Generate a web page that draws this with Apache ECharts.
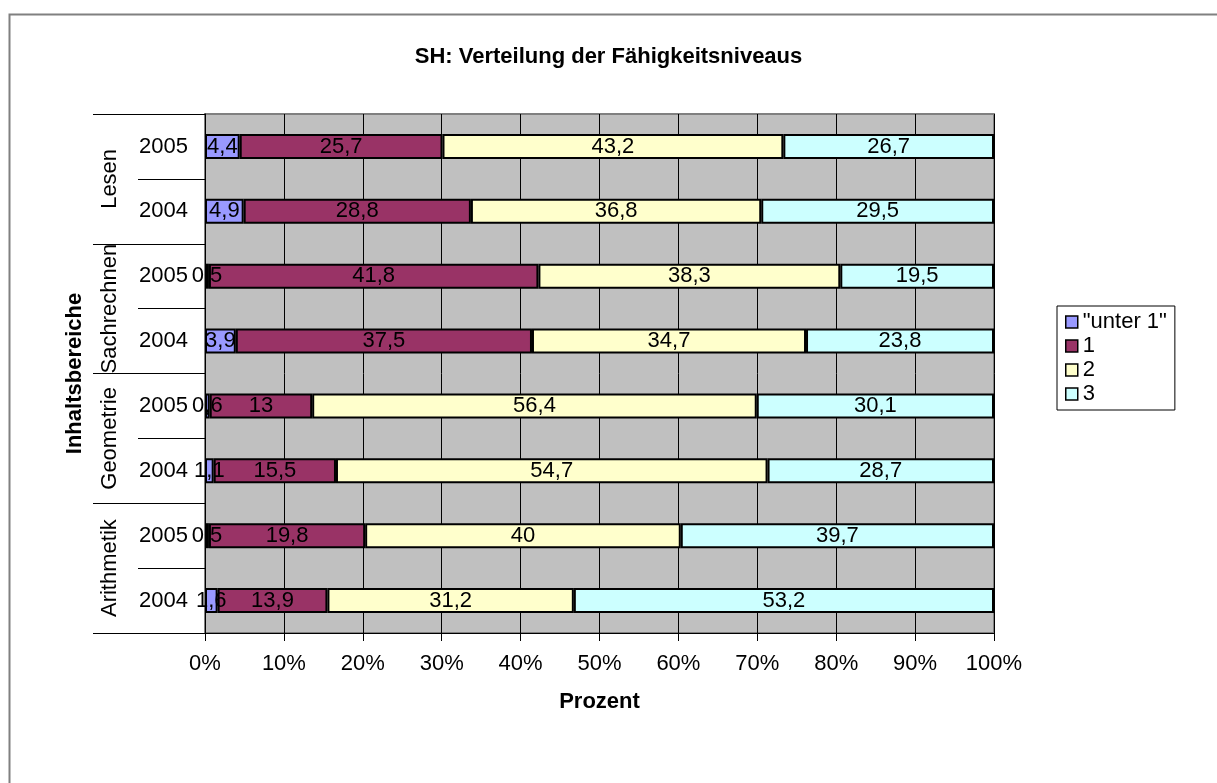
<!DOCTYPE html>
<html>
<head>
<meta charset="utf-8">
<title>SH: Verteilung der Fähigkeitsniveaus</title>
<script src="https://cdn.jsdelivr.net/npm/echarts@6/dist/echarts.min.js"></script>
<style>
    html, body { margin: 0; padding: 0; background: #fff; }
    #main { width: 1217px; height: 783px; }
</style>
</head>
<body>
<div id="main"></div>
<script>
// categories, bottom to top (echarts category axis starts at the bottom)
const years = ['2004', '2005', '2004', '2005', '2004', '2005', '2004', '2005'];
const groups = ['Arithmetik', 'Geometrie', 'Sachrechnen', 'Lesen'];
const seriesNames = ['"unter 1"', '1', '2', '3'];

const unter1 = [1.6, 0.5, 1.1, 0.6, 3.9, 0.5, 4.9, 4.4];
const level1 = [13.9, 19.8, 15.5, 13, 37.5, 41.8, 28.8, 25.7];
const level2 = [31.2, 40, 54.7, 56.4, 34.7, 38.3, 36.8, 43.2];
const level3 = [53.2, 39.7, 28.7, 30.1, 23.8, 19.5, 29.5, 26.7];

const tickLabels = ['0%', '10%', '20%', '30%', '40%', '50%', '60%', '70%', '80%', '90%', '100%'];

const colors = ['#9999FF', '#993366', '#FFFFCC', '#CCFFFF'];
const FONT = "'Liberation Sans', Arial, sans-serif";
const FS = 22;

function draw_chart() {
    let chartDom = document.getElementById('main');
    let myChart = echarts.init(chartDom);
    const raw = [unter1, level1, level2, level3];
    // 100% stacked: scale each row to its sum, like Excel does
    const sums = years.map((y, i) => raw.reduce((s, arr) => s + arr[i], 0));

    let series = raw.map((arr, k) => ({
        name: seriesNames[k],
        type: 'bar',
        stack: 'total',
        barWidth: 25,
        data: arr.map((v, i) => v / sums[i] * 100),
        itemStyle: {
            color: colors[k],
            borderColor: '#000',
            borderWidth: 2
        },
        label: {
            show: true,
            position: 'inside',
            color: '#000',
            fontFamily: FONT,
            fontSize: FS,
            formatter: p => String(raw[k][p.dataIndex]).replace('.', ',')
        },
        emphasis: { disabled: true }
    }));

    let option = {
        animation: false,
        textStyle: { fontFamily: FONT },
        title: {
            text: 'SH: Verteilung der Fähigkeitsniveaus',
            left: 'center',
            top: 41,
            textStyle: { fontSize: FS, fontWeight: 'bold', color: '#000', fontFamily: FONT }
        },
        legend: {
            orient: 'vertical',
            left: 1057,
            top: 306,
            padding: [5, 8, 5, 8],
            borderColor: '#000',
            borderWidth: 1,
            itemWidth: 12,
            itemHeight: 12,
            itemGap: 2,
            icon: 'rect',
            itemStyle: { borderWidth: 1.5 },
            textStyle: { fontSize: FS, color: '#000', fontFamily: FONT },
            data: seriesNames
        },
        grid: {
            left: 205,
            right: 223,
            top: 114,
            bottom: 150,
            show: true,
            backgroundColor: '#C0C0C0',
            borderColor: '#808080',
            borderWidth: 2
        },
        xAxis: {
            type: 'value',
            min: 0,
            max: 100,
            interval: 10,
            name: 'Prozent',
            nameLocation: 'middle',
            nameGap: 58,
            nameTextStyle: { fontSize: FS, fontWeight: 'bold', color: '#000', fontFamily: FONT },
            axisLine: { show: true, lineStyle: { color: '#000', width: 1 } },
            axisTick: { show: true, length: 8, lineStyle: { color: '#000' } },
            axisLabel: {
                margin: 20,
                fontSize: FS,
                color: '#000',
                fontFamily: FONT,
                formatter: v => tickLabels[Math.round(v / 10)]
            },
            splitLine: { show: true, lineStyle: { color: '#000', width: 1 } }
        },
        yAxis: [{
            type: 'category',
            data: years,
            position: 'left',
            axisLine: { show: true, lineStyle: { color: '#000', width: 1 } },
            axisTick: { show: true, interval: 0, length: 67, lineStyle: { color: '#000' } },
            axisLabel: { interval: 0, margin: 17, fontSize: FS, color: '#000', fontFamily: FONT },
            splitLine: { show: false }
        }, {
            type: 'category',
            data: groups,
            position: 'left',
            offset: 0,
            name: 'Inhaltsbereiche',
            nameLocation: 'middle',
            nameGap: 119,
            nameTextStyle: { fontSize: FS, fontWeight: 'bold', color: '#000', fontFamily: FONT },
            axisLine: { show: false },
            axisTick: { show: true, interval: 0, length: 112, lineStyle: { color: '#000' } },
            axisLabel: { interval: 0, rotate: 90, margin: 84, fontSize: FS, color: '#000', fontFamily: FONT },
            splitLine: { show: false }
        }],
        graphic: [{
            type: 'rect',
            left: 7,
            top: 12,
            shape: { width: 1240, height: 800 },
            style: { fill: null, stroke: '#808080', lineWidth: 2 },
            silent: true,
            z: -10
        }],
        series: series
    };

    option && myChart.setOption(option);
}

draw_chart();
</script>
</body>
</html>
